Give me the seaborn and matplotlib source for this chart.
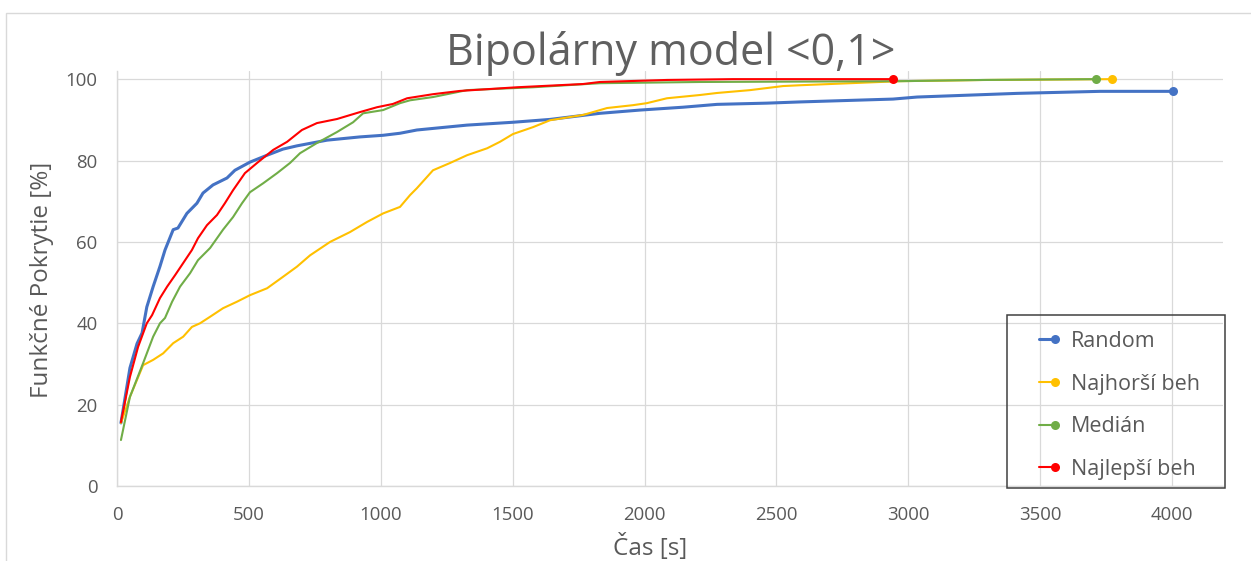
import matplotlib
matplotlib.use("Agg")
import matplotlib.pyplot as plt
import matplotlib.patches as mpatches
import seaborn as sns
import numpy as np

# ---- data ----
title = "Bipolárny model <0,1>"
x_label = "Čas [s]"
y_label = "Funkčné Pokrytie [%]"
series_names = ["Random", "Najhorší beh", "Medián", "Najlepší beh"]

random_x = [15, 49, 76, 95, 113, 137, 163, 182, 213, 231, 265, 303, 326, 364, 417, 447, 504, 569, 629, 682,
            796, 921, 1009, 1073, 1137, 1327, 1501, 1642, 1831, 1983, 2146, 2275, 2464, 2590, 2942, 3033,
            3412, 3727, 4004]
random_y = [15.5, 29, 35, 37.6, 44, 49, 54, 58, 63, 63.4, 67, 69.5, 72, 74, 75.7, 77.6, 79.6, 81.3, 82.8, 83.6,
            85, 85.8, 86.2, 86.7, 87.5, 88.7, 89.4, 90.1, 91.6, 92.4, 93.1, 93.8, 94.1, 94.4, 95.1, 95.6,
            96.5, 97.0, 97.0]

worst_x = [15, 49, 99, 137, 175, 213, 251, 284, 315, 353, 402, 455, 504, 569, 629, 682, 732, 808, 883, 948,
           1009, 1073, 1111, 1137, 1198, 1263, 1327, 1403, 1452, 1501, 1577, 1642, 1767, 1858, 1956, 2009,
           2085, 2210, 2275, 2400, 2525, 2590, 2969, 3300, 3773]
worst_y = [15.5, 21.9, 29.7, 31, 32.6, 35.1, 36.7, 39.1, 40, 41.6, 43.7, 45.3, 46.9, 48.6, 51.4, 53.9, 56.7,
           60, 62.4, 64.9, 67, 68.6, 71.5, 73.2, 77.6, 79.4, 81.3, 83, 84.6, 86.5, 88.2, 89.9, 91.2, 92.9,
           93.6, 94.1, 95.3, 96.1, 96.6, 97.3, 98.3, 98.5, 99.5, 99.8, 100]

median_x = [15, 49, 99, 137, 163, 182, 209, 239, 277, 307, 353, 402, 440, 474, 504, 554, 607, 656, 694, 758,
            834, 895, 933, 1009, 1073, 1111, 1198, 1327, 1577, 1831, 2210, 2969, 3284, 3712]
median_y = [11.3, 21.9, 30.2, 36.7, 40, 41.3, 45.3, 49, 52.3, 55.5, 58.5, 63, 66.1, 69.5, 72.2, 74.4, 76.9,
            79.4, 81.8, 84.3, 87, 89.4, 91.6, 92.4, 94.1, 94.8, 95.6, 97.3, 98, 99, 99.3, 99.5, 99.8, 100]

best_x = [15, 49, 80, 113, 133, 163, 190, 220, 251, 284, 307, 341, 379, 409, 440, 485, 531, 592, 645, 701,
          758, 834, 921, 986, 1046, 1100, 1198, 1300, 1516, 1767, 1831, 2085, 2336, 2942]
best_y = [15.7, 26.8, 34.2, 40, 42, 46.2, 49, 51.8, 54.8, 58, 60.9, 64.1, 66.6, 69.5, 72.7, 76.9, 79.4, 82.6,
          84.6, 87.5, 89.2, 90.2, 91.9, 93.1, 93.9, 95.3, 96.3, 97.1, 98, 98.8, 99.3, 99.8, 100, 100]

x_ticks = [0, 500, 1000, 1500, 2000, 2500, 3000, 3500, 4000]
y_ticks = [0, 20, 40, 60, 80, 100]

colors = ["#4472C4", "#FFC000", "#70AD47", "#FF0000"]
widths = [2.2, 1.5, 1.5, 1.5]

# ---- style ----
sns.set_theme(style="white")
plt.rcParams["font.family"] = ["Open Sans", "DejaVu Sans"]
text_col = "#595959"
grid_col = "#D9D9D9"

W, H = 1251, 561
fig = plt.figure(figsize=(W / 100, H / 100), dpi=100)
ax = fig.add_axes([117 / W, 1 - 486 / H, (1223 - 117) / W, (486 - 71) / H])

all_series = [(random_x, random_y), (worst_x, worst_y), (median_x, median_y), (best_x, best_y)]
for (xs, ys), name, c, lw in zip(all_series, series_names, colors, widths):
    sns.lineplot(x=np.array(xs), y=np.array(ys), ax=ax, color=c, linewidth=lw, label=name,
                 marker="o", markersize=6.5, markeredgewidth=0, markevery=[-1], sort=False)

ax.set_xlim(0, 4193)
ax.set_ylim(0, 102)
ax.set_xticks(x_ticks)
ax.set_yticks(y_ticks)
ax.set_xticklabels([str(t) for t in x_ticks])
ax.set_yticklabels([str(t) for t in y_ticks])
ax.tick_params(axis="both", length=0, labelsize=13.4, colors=text_col)
ax.tick_params(axis="y", pad=14)
ax.tick_params(axis="x", pad=14.5)
ax.grid(True, color=grid_col, linewidth=0.9)
ax.set_axisbelow(True)
for s in ["top", "right"]:
    ax.spines[s].set_visible(False)
for s in ["left", "bottom"]:
    ax.spines[s].set_color(grid_col)
    ax.spines[s].set_linewidth(1.0)

ax.set_xlabel(x_label, fontsize=17.5, color=text_col)
ax.set_ylabel(y_label, fontsize=17.5, color=text_col)
ax.xaxis.set_label_coords((650 - 117) / 1106, (486 - 555) / 415)
ax.xaxis.label.set_va("baseline")
ax.yaxis.set_label_coords((42 - 117) / 1106, (486 - 280) / 415)
ax.yaxis.label.set_va("center")
ax.yaxis.label.set_ha("center")

fig.text(671 / W, 1 - 65 / H, title, ha="center", va="baseline", fontsize=31, color="#606060")

# legend
handles, labels = ax.get_legend_handles_labels()
leg = ax.legend(handles, labels, loc="upper left", bbox_to_anchor=(1033 / W, 1 - 331 / H),
                bbox_transform=fig.transFigure, frameon=False, numpoints=2, handlelength=1.3,
                handletextpad=0.45, labelspacing=1.0, borderpad=0, borderaxespad=0,
                prop={"size": 15.5})
for t in leg.get_texts():
    t.set_color(text_col)
for ln in leg.get_lines():
    ln.set_markevery([-1])
fig.patches.append(mpatches.Rectangle((1007 / W, 1 - 488 / H), (1225 - 1007) / W, (488 - 315) / H,
                                      transform=fig.transFigure, fill=False, edgecolor="#404040",
                                      linewidth=1.1, zorder=5))
# chart-area border
fig.patches.append(mpatches.Rectangle((6 / W, -0.2), 1.2, (H - 13) / H + 0.2, transform=fig.transFigure,
                                      fill=False, edgecolor=grid_col, linewidth=1.0, zorder=0))

fig.savefig("out.png", dpi=100)
